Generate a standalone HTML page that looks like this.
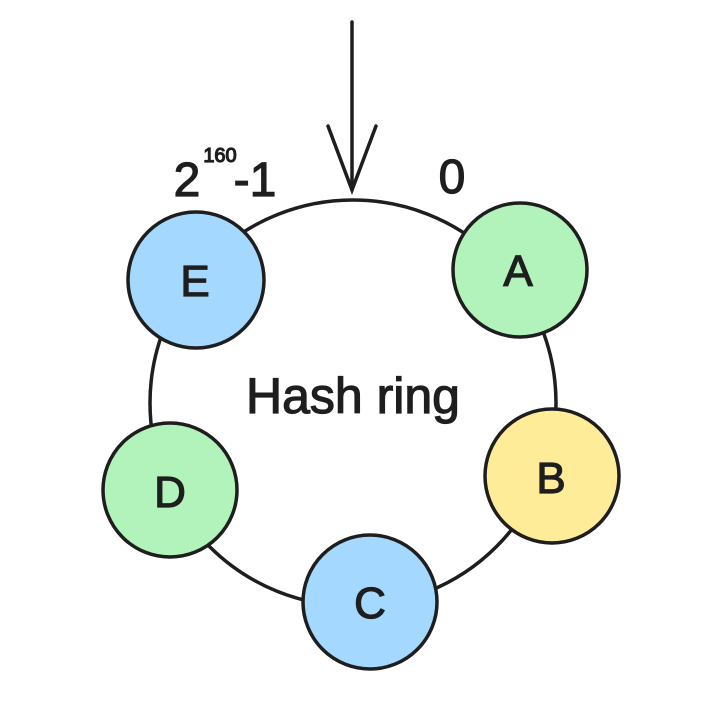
<!DOCTYPE html>
<html><head><meta charset="utf-8"><style>
html,body{margin:0;padding:0;background:#fff;}
svg{display:block}
text{font-family:"Liberation Sans",sans-serif;fill:#1e1e1e;stroke:#1e1e1e;stroke-width:1.2}
</style></head><body>
<svg width="726" height="714" viewBox="0 0 726 714" xmlns="http://www.w3.org/2000/svg">
<g fill="none" stroke="#1e1e1e" stroke-width="3.5" stroke-linecap="round">
<circle cx="353" cy="403" r="203"/>
<line x1="352" y1="22" x2="352" y2="190"/>
<polyline points="328,126 352,190 376,126"/>
</g>
<g stroke="#1e1e1e" stroke-width="3.5">
<circle cx="196" cy="280" r="68" fill="#a5d8ff"/>
<circle cx="520" cy="270" r="67" fill="#b2f2bb"/>
<circle cx="552" cy="476" r="67" fill="#ffec99"/>
<circle cx="170" cy="490" r="67" fill="#b2f2bb"/>
<circle cx="370" cy="602" r="67" fill="#a5d8ff"/>
</g>
<g font-size="44" text-anchor="middle">
<text x="195" y="296">E</text>
<text x="518" y="286">A</text>
<text x="551" y="493">B</text>
<text x="170" y="507">D</text>
<text x="370" y="618">C</text>
<text x="353" y="413" font-size="50" stroke-width="1.5">Hash ring</text>
<text x="187" y="196" font-size="48">2</text>
<text x="220" y="162" font-size="20" stroke-width="0.6">160</text>
<text x="255" y="196" font-size="48">-1</text>
<text x="452" y="193" font-size="48">0</text>
</g>
</svg>
</body></html>
